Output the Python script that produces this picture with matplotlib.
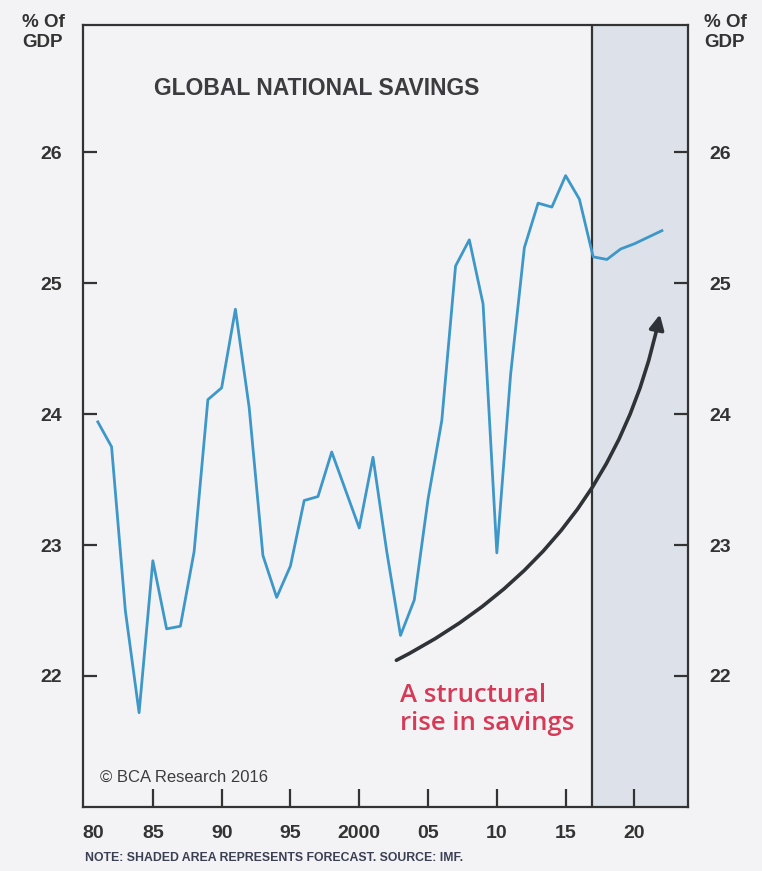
import matplotlib
matplotlib.use('Agg')
import matplotlib.pyplot as plt

# Global national savings, % of GDP (shaded = forecast)
years = list(range(1981, 2023))
savings = [23.94, 23.75, 22.50, 21.72, 22.88, 22.36, 22.38, 22.95, 24.11, 24.20,
           24.80, 24.05, 22.92, 22.60, 22.84, 23.34, 23.37, 23.71, 23.42, 23.13,
           23.67, 22.95, 22.31, 22.58, 23.35, 23.95, 25.13, 25.33, 24.84, 22.94,
           24.30, 25.27, 25.61, 25.58, 25.82, 25.64, 25.20, 25.18, 25.26, 25.30,
           25.35, 25.40]
forecastStart = 2016.9
xTicks = [1985, 1990, 1995, 2000, 2005, 2010, 2015, 2020]
xTickLabels = ['85', '90', '95', '2000', '05', '10', '15', '20']
yTicks = [22, 23, 24, 25, 26]

# Arrow start / end (data coords)
arrowStart = (2002.7, 22.12)
arrowEnd = (2021.85, 24.76)

plt.rcParams['font.family'] = ['Liberation Sans', 'DejaVu Sans']

bg = '#f3f3f5'
dark = '#333333'

fig = plt.figure(figsize=(7.62, 8.71), dpi=100, facecolor=bg)
ax = fig.add_axes([0.1085, 0.0735, 0.7945, 0.8978])
ax.set_facecolor(bg)

ax.set_xlim(1979.9, 2023.9)
ax.set_ylim(21.0, 26.97)

# Forecast shading
ax.axvspan(forecastStart, 2023.9, color='#dde2ea', zorder=0)
ax.axvline(forecastStart, color=dark, lw=1.6, zorder=1)

ax.plot(years, savings, color='#3d97c9', lw=2.0, zorder=3)

# Curved arrow
ax.annotate('', xy=arrowEnd, xytext=arrowStart,
            arrowprops=dict(arrowstyle='-|>', connectionstyle='arc3,rad=0.24',
                            color='#2f3236', lw=2.6, mutation_scale=22,
                            shrinkA=0, shrinkB=0), zorder=4)
ax.text(2002.95, 21.95, 'A structural\nrise in savings', color='#d63a57',
        fontsize=18.5, family=['Open Sans', 'DejaVu Sans'], fontweight='semibold',
        ha='left', va='top', linespacing=1.2, zorder=5)

# Spines / ticks
for s in ax.spines.values():
    s.set_color(dark)
    s.set_linewidth(1.6)

ax.set_xticks(xTicks)
ax.set_xticklabels(xTickLabels)
# "80" sits just inside the left spine, no tick mark
ax.set_xticks([1980.65], minor=True)
ax.set_xticklabels(['80'], minor=True)
ax.set_yticks(yTicks)
ax.tick_params(axis='x', direction='in', length=13, width=1.6, color=dark,
               pad=13, labelsize=14, labelcolor=dark)
ax.tick_params(axis='x', which='minor', length=0, pad=13, labelsize=14,
               labelcolor=dark)
ax.tick_params(axis='y', direction='in', length=10, width=1.6, color=dark,
               labelsize=14, labelcolor=dark, left=True, right=True,
               labelleft=True, labelright=True, pad=15)
for lab in ax.get_xticklabels() + ax.get_xticklabels(minor=True):
    lab.set_fontweight('bold')
for t in ax.yaxis.get_major_ticks():
    t.label1.set_fontweight('bold')
    t.label2.set_fontweight('bold')

# Texts
fig.text(0.416, 0.898, 'GLOBAL NATIONAL SAVINGS', ha='center', va='center',
         fontsize=16.5, fontweight='bold', color='#3c3c40')
fig.text(0.029, 0.984, '% Of\nGDP', ha='left', va='top', fontsize=13.5,
         fontweight='bold', color=dark, linespacing=1.25)
fig.text(0.924, 0.984, '% Of\nGDP', ha='left', va='top', fontsize=13.5,
         fontweight='bold', color=dark, linespacing=1.25)
fig.text(0.131, 0.108, '\u00a9 BCA Research 2016', ha='left', va='center',
         fontsize=12, color='#3c3c40')
fig.text(0.1115, 0.015, 'NOTE: SHADED AREA REPRESENTS FORECAST. SOURCE: IMF.',
         ha='left', va='center', fontsize=8.8, fontweight='bold', color='#3a3f52')

fig.savefig('out.png', dpi=100, facecolor=bg)
